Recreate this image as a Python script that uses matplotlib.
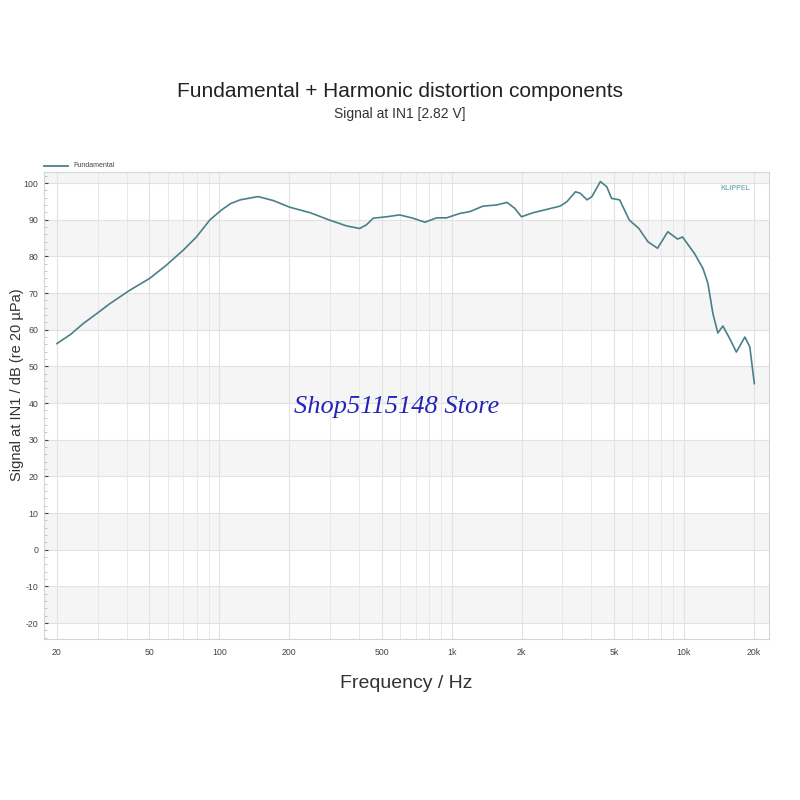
import numpy as np
import matplotlib.pyplot as plt
from matplotlib.ticker import FixedLocator, MultipleLocator, NullFormatter
from matplotlib.lines import Line2D

plt.rcParams['font.family'] = ['Liberation Sans', 'DejaVu Sans']
plt.rcParams['axes.unicode_minus'] = False

# curve (Hz, dB)
freq = [20, 23, 26, 30, 33.8, 41.3, 50.2, 59.2, 70, 79.8, 91, 102, 112, 123,
        147, 171, 201, 246, 298, 353, 402, 430, 460, 526, 598, 682, 768, 862,
        952, 1086, 1198, 1366, 1560, 1732, 1870, 1998, 2247, 2566, 2932,
        3136, 3411, 3580, 3830, 4020, 4370, 4654, 4884, 5290, 5820, 6400,
        7000, 7700, 8520, 9400, 9860, 11100, 12080, 12690, 13330, 14000,
        14720, 15740, 16820, 18300, 19220, 20100]
level = [56.2, 58.8, 61.7, 64.6, 67.1, 70.8, 74.0, 77.6, 81.7, 85.3, 89.9,
         92.6, 94.4, 95.4, 96.3, 95.2, 93.4, 91.9, 89.9, 88.3, 87.6, 88.6,
         90.4, 90.8, 91.3, 90.4, 89.3, 90.5, 90.5, 91.7, 92.2, 93.7, 94.0,
         94.7, 93.1, 90.8, 91.9, 92.8, 93.7, 94.9, 97.6, 97.2, 95.4, 96.3,
         100.4, 99.0, 95.8, 95.4, 89.9, 87.6, 84.0, 82.2, 86.7, 84.7, 85.3,
         80.8, 76.7, 72.6, 64.4, 59.1, 61.0, 57.6, 53.9, 58.0, 55.3, 45.3]

xticks = [20, 50, 100, 200, 500, 1000, 2000, 5000, 10000, 20000]
xlabels = ['20', '50', '100', '200', '500', '1k', '2k', '5k', '10k', '20k']
yticks = list(range(-20, 101, 10))

fig = plt.figure(figsize=(8, 8), dpi=100)
ax = fig.add_axes([0.055, 0.201, 0.906, 0.584])

ax.set_xscale('log')
ax.set_xlim(17.6, 23200)
ax.set_ylim(-24.4, 103)

# alternating light bands
for b in range(-20, 101, 20):
    ax.axhspan(b, b + 10, color='#f5f5f5', zorder=0, lw=0)

ax.plot(freq, level, color='#4a8088', lw=1.2, zorder=3)

ax.xaxis.set_major_locator(FixedLocator(xticks))
ax.set_xticklabels(xlabels)
ax.xaxis.set_minor_formatter(NullFormatter())
ax.set_yticks(yticks)
ax.yaxis.set_minor_locator(MultipleLocator(2))

ax.grid(which='major', axis='both', color='#e2e2e2', lw=0.8, zorder=1)
ax.grid(which='minor', axis='x', color='#e8e8e8', lw=0.7, zorder=1)

ax.tick_params(axis='both', which='major', labelsize=6.3, colors='#444444',
               length=3, direction='in', pad=4)
ax.tick_params(axis='both', which='minor', length=2, direction='in',
               colors='#bbbbbb')
ax.tick_params(axis='x', which='both', length=0, pad=6)
for s in ax.spines.values():
    s.set_color('#d5d5d5')
    s.set_linewidth(0.8)

ax.set_ylabel('Signal at IN1 / dB (re 20 µPa)', fontsize=10.5, color='#333333')
ax.yaxis.set_label_coords(-0.027, 0.545)
ax.set_xlabel('Frequency / Hz', fontsize=14, color='#333333', labelpad=13)

fig.text(0.5, 0.886, 'Fundamental + Harmonic distortion components',
         ha='center', va='center', fontsize=15, color='#222222')
fig.text(0.5, 0.857, 'Signal at IN1 [2.82 V]', ha='center', va='center',
         fontsize=10, color='#333333')

# legend above the plot area
fig.add_artist(Line2D([0.055, 0.085], [0.793, 0.793], color='#4a8088', lw=1.3))
fig.text(0.092, 0.793, 'Fundamental', fontsize=5, va='center', color='#444444')

# logo text
ax.text(0.975, 0.965, 'KLIPPEL', transform=ax.transAxes, ha='right',
        va='center', fontsize=5, color='#7fb3bd', fontweight='bold')

# watermark
fig.text(0.496, 0.491, 'Shop5115148 Store', ha='center', va='center',
         fontsize=19, style='italic', color='#2424b8', family='Liberation Serif')

fig.savefig('out.png', dpi=100)
